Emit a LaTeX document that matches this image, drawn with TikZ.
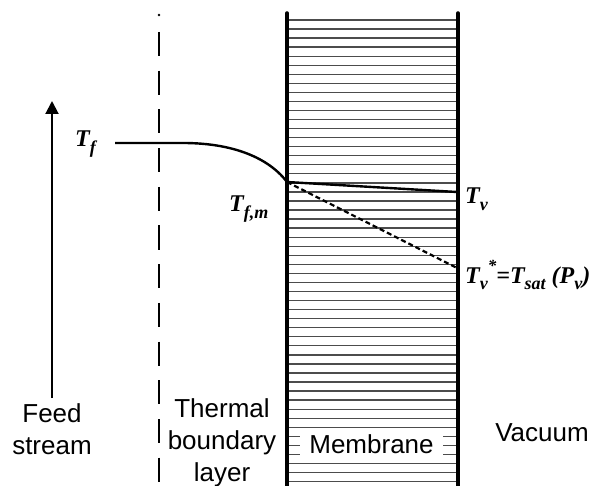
\documentclass[tikz,border=0pt]{standalone}
\usepackage{fontspec}
\setmainfont{Liberation Sans}
\newfontfamily\serifbi{Liberation Serif}
\usetikzlibrary{arrows.meta}
\newcommand{\lowsub}[1]{\raisebox{-0.26em}{\fontsize{18}{18}\selectfont #1}}
\newcommand{\highsup}[1]{\raisebox{0.5em}{\fontsize{17}{17}\selectfont #1}}
\tikzset{
  hatchline/.style={draw=black!70, line width=1.3pt},
  memline/.style={draw=black, line width=3.5pt, line cap=round},
  bline/.style={draw=black, line width=2.6pt, dash pattern=on 24pt off 14.7pt},
  tcurve/.style={draw=black, line width=2.4pt},
  tdash/.style={draw=black, line width=2.2pt, dash pattern=on 5pt off 3pt},
  tlabel/.style={font=\serifbi\bfseries\itshape\fontsize{24}{24}\selectfont, inner sep=0pt, anchor=base west},
  sanslabel/.style={font=\fontsize{26}{32}\selectfont, inner sep=0pt, align=center},
  feedarrow/.style={draw=black, line width=2pt, -{Triangle[length=13pt,width=13pt]}}
}
\begin{document}
\begin{tikzpicture}[x=1pt,y=-1pt]
\useasboundingbox (0,0) rectangle (599,486);
% membrane hatching
\foreach \k in {0,...,51} \draw[hatchline] (288,{20+9.05*\k}) -- (457,{20+9.05*\k});
\node[fill=white, inner sep=0pt, minimum width=143pt, minimum height=26pt,
      font=\fontsize{26}{26}\selectfont] (mem) at (371.5,444.5) {Membrane};
% membrane walls
\coordinate (lwtop) at (287,13);
\coordinate (lwbot) at (287,492);
\coordinate (rwtop) at (458,13);
\coordinate (rwbot) at (458,492);
\draw[memline] (lwtop) -- (lwbot);
\draw[memline] (rwtop) -- (rwbot);
% thermal boundary layer edge
\coordinate (bltop) at (159,32);
\coordinate (blbot) at (159,492);
\fill (159,15) circle (1.3pt);
\draw[bline] (bltop) -- (blbot);
% feed arrow
\coordinate (fa1) at (52,398);
\coordinate (fa2) at (52,101);
\draw[feedarrow] (fa1) -- (fa2);
% temperature profile
\coordinate (tfs) at (115,143);
\coordinate (tfe) at (183,143);
\coordinate (tfm) at (287,182);
\coordinate (tv) at (457,192);
\coordinate (tvs) at (457,268);
\draw[tcurve] (tfs) -- (tfe) .. controls (240,143) and (272,162) .. (tfm);
\draw[tcurve] (tfm) -- (tv);
\draw[tdash] (tfm) -- (tvs);
% labels
\node[tlabel] (ltf) at (75,147) {T\lowsub{f}};
\node[tlabel] (ltfm) at (229,212) {T\lowsub{f,m}};
\node[tlabel] (ltv) at (465,204) {T\lowsub{v}};
\node[tlabel] (ltvs) at (465,283) {T\lowsub{v}\highsup{*}=T\lowsub{sat} (P\lowsub{v})};
\node[sanslabel, anchor=north] (feed) at (52,403) {Feed\\stream};
\node[sanslabel, anchor=north] (tbl) at (222,398) {Thermal\\boundary\\layer};
\node[sanslabel, anchor=base] (vac) at (542,441) {Vacuum};
\end{tikzpicture}
\end{document}
